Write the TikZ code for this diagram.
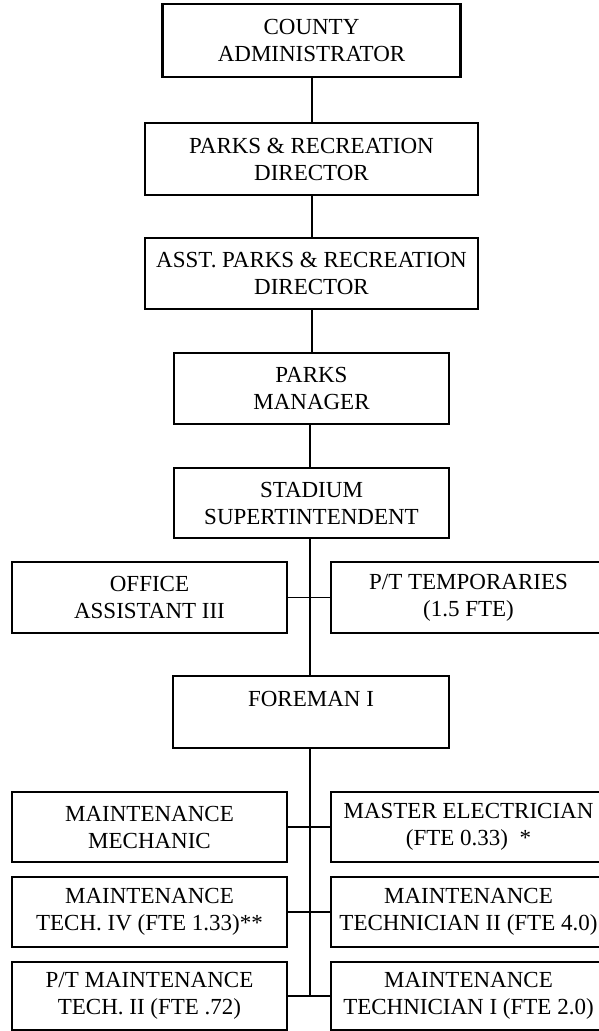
\documentclass[tikz,border=0pt]{standalone}
\usepackage{fontspec}
\setmainfont{Liberation Serif}
\begin{document}
\begin{tikzpicture}[x=1pt,y=-1pt,
  orgbox/.style={draw, rectangle, line width=1.3pt, inner sep=0pt, align=center,
    font=\fontsize{23}{27}\selectfont},
  midbox/.style={orgbox, minimum width=275pt, minimum height=71pt},
  sidebox/.style={orgbox, minimum width=275pt, minimum height=70pt},
  link/.style={line width=1.3pt}]
\useasboundingbox (0,0) rectangle (599,1031);
\fill[white] (0,0) rectangle (599,1031);

% vertical reference lines for the chain of command
\coordinate (spine) at (312,0);
\coordinate (trunk) at (310,0);

% top of the chain
\node[orgbox, line width=2.4pt, minimum width=298pt, minimum height=73pt] (admin) at (311.5,40.5) {COUNTY\\ADMINISTRATOR};
\node[orgbox, minimum width=333pt, minimum height=72pt] (dir) at (311.5,159) {PARKS \& RECREATION\\DIRECTOR};
\node[orgbox, minimum width=333pt, minimum height=71pt] (asst) at (311.5,273.5) {ASST. PARKS \& RECREATION\\DIRECTOR};
\node[midbox] (mgr) at (311.5,388.5) {PARKS\\MANAGER};
\node[midbox, minimum height=70pt] (stad) at (311.5,503) {STADIUM\\SUPERTINTENDENT};

% staff reporting to the superintendent
\node[sidebox, minimum height=71pt] (office) at (149.5,597.5) {OFFICE\\ASSISTANT III};
\node[sidebox, minimum height=71pt] (temps) at (468.5,597.5) {P/T TEMPORARIES\\(1.5 FTE)};

\node[midbox, minimum width=276pt, minimum height=72pt] (fore) at (311,712) {FOREMAN I\\~};

% maintenance crew
\node[sidebox] (mech) at (149.5,827) {MAINTENANCE\\MECHANIC};
\node[sidebox] (elec) at (468.5,827) {MASTER ELECTRICIAN\\(FTE 0.33)~~*};
\node[sidebox] (tech4) at (149.5,912) {MAINTENANCE\\TECH. IV (FTE 1.33)**};
\node[sidebox] (tech2) at (468.5,912) {MAINTENANCE\\TECHNICIAN II (FTE 4.0)};
\node[sidebox, minimum height=68pt] (pttech) at (149.5,996) {P/T MAINTENANCE\\TECH. II (FTE .72)};
\node[sidebox, minimum height=68pt] (tech1) at (468.5,996) {MAINTENANCE\\TECHNICIAN I (FTE 2.0)};

% reporting lines
\draw[link] (admin.south -| spine) -- (dir.north -| spine);
\draw[link] (dir.south -| spine) -- (asst.north -| spine);
\draw[link] (asst.south -| spine) -- (mgr.north -| spine);
\draw[link] (mgr.south -| trunk) -- (stad.north -| trunk);
\draw[link] (stad.south -| trunk) -- (fore.north -| trunk);
\draw[link] (office.east) -- (temps.west);
\draw[link] (fore.south -| trunk) -- (tech1.west -| trunk);
\draw[link] (mech.east) -- (elec.west);
\draw[link] (tech4.east) -- (tech2.west);
\draw[link] (pttech.east) -- (tech1.west);
\end{tikzpicture}
\end{document}
